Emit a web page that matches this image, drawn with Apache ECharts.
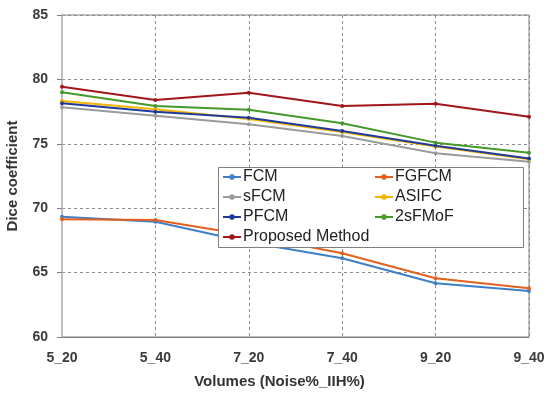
<!DOCTYPE html>
<html>
<head>
<meta charset="utf-8">
<script src="https://cdn.jsdelivr.net/npm/echarts@6/dist/echarts.min.js"></script>
<style>
html,body{margin:0;padding:0;background:#fff;}
#chart{width:554px;height:393px;}
</style>
</head>
<body>
<div id="chart"></div>
<script>
var categories = ['5_20', '5_40', '7_20', '7_40', '9_20', '9_40'];
var fcm      = [69.34, 68.95, 67.35, 66.11, 64.17, 63.57];
var fgfcm    = [69.15, 69.08, 67.9, 66.5, 64.56, 63.78];
var sfcm     = [77.83, 77.18, 76.51, 75.61, 74.26, 73.61];
var asifc    = [78.32, 77.68, 76.93, 75.92, 74.78, 73.8];
var pfcm     = [78.14, 77.49, 77.03, 75.99, 74.85, 73.85];
var s2fmof   = [79.0, 77.93, 77.65, 76.59, 75.09, 74.31];
var proposed = [79.43, 78.4, 78.97, 77.93, 78.11, 77.1];
var yTicks = [60, 65, 70, 75, 80, 85];

var names = ['FCM', 'FGFCM', 'sFCM', 'ASIFC', 'PFCM', '2sFMoF', 'Proposed Method'];
var values = [fcm, fgfcm, sfcm, asifc, pfcm, s2fmof, proposed];
var colors = ['#3f7fc6', '#e2611f', '#9b9b9b', '#f7b500', '#1f3a9a', '#45982a', '#a0161a'];

var series = names.map(function (n, i) {
  return {
    name: n,
    type: 'line',
    data: values[i],
    symbol: 'circle',
    symbolSize: 4,
    showSymbol: true,
    lineStyle: { width: 2, color: colors[i] },
    itemStyle: { color: colors[i] },
    z: 2
  };
});

var font = 'Liberation Sans';
var chart = echarts.init(document.getElementById('chart'), null, { renderer: 'canvas' });
chart.setOption({
  animation: false,
  backgroundColor: '#ffffff',
  grid: { left: 62, right: 25, top: 15, bottom: 56, show: true, borderColor: '#808080', borderWidth: 1,
    containLabel: false, outerBoundsMode: 'none' },
  legend: [
    {
      data: ['FCM', 'sFCM', 'PFCM', 'Proposed Method'],
      orient: 'vertical', left: 222, top: 169, itemGap: 4, itemWidth: 18, itemHeight: 7,
      padding: 0, z: 5,
      textStyle: { fontFamily: font, fontSize: 16, color: '#222', padding: [0, 0, 0, -3] }
    },
    {
      data: ['FGFCM', 'ASIFC', '2sFMoF'],
      orient: 'vertical', left: 374, top: 169, itemGap: 4, itemWidth: 18, itemHeight: 7,
      padding: 0, z: 5,
      textStyle: { fontFamily: font, fontSize: 16, color: '#222', padding: [0, 0, 0, -3] }
    }
  ],
  graphic: [{
    type: 'rect', z: 4,
    shape: { x: 218.5, y: 167.5, width: 305, height: 80 },
    style: { fill: '#ffffff', stroke: '#808080', lineWidth: 1 }
  }],
  xAxis: {
    type: 'category',
    data: categories,
    boundaryGap: false,
    name: 'Volumes (Noise%_IIH%)',
    nameLocation: 'middle',
    nameGap: 37,
    nameTextStyle: { fontFamily: font, fontSize: 15, fontWeight: 'bold', color: '#333', padding: [0, 32, 0, 0] },
    axisLine: { show: true, lineStyle: { color: '#808080', width: 1 } },
    axisTick: { show: false },
    axisLabel: { fontFamily: font, fontSize: 14, fontWeight: 'bold', color: '#3a3a3a', margin: 14 },
    splitLine: { show: true, lineStyle: { color: '#8c8c8c', type: [3, 3], width: 1 } }
  },
  yAxis: {
    type: 'value',
    min: 60, max: 85, interval: 5,
    name: 'Dice coefficient',
    nameLocation: 'middle',
    nameGap: 42,
    nameTextStyle: { fontFamily: font, fontSize: 15, fontWeight: 'bold', color: '#333' },
    axisLine: { show: true, lineStyle: { color: '#bdbdbd', width: 2 } },
    axisTick: { show: true, length: 5, lineStyle: { color: '#808080' } },
    axisLabel: { fontFamily: font, fontSize: 14, fontWeight: 'bold', color: '#3a3a3a', margin: 14,
      formatter: function (v) { return yTicks.indexOf(v) >= 0 ? String(v) : ''; } },
    splitLine: { show: true, lineStyle: { color: '#8c8c8c', type: [3, 3], width: 1 } }
  },
  series: series
});
</script>
</body>
</html>
